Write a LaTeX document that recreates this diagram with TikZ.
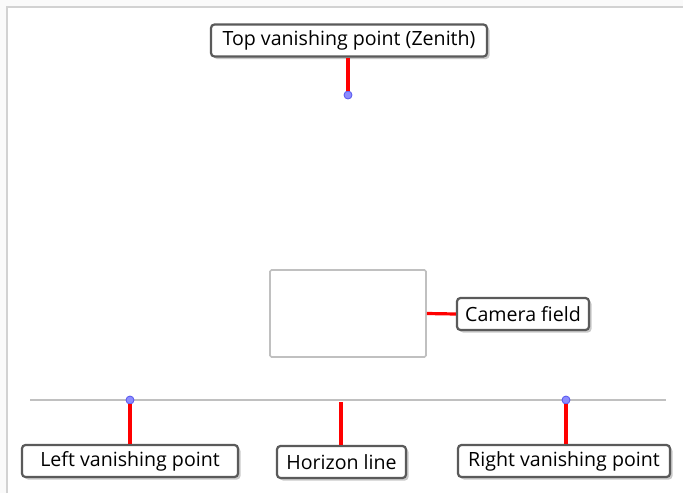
\documentclass[tikz,border=0pt]{standalone}
\usepackage{fontspec}
\setmainfont{Open Sans}
\usetikzlibrary{shadows}
\definecolor{outerbg}{HTML}{FAFAFA}
\definecolor{framegray}{HTML}{D2D2D2}
\definecolor{linegray}{HTML}{C0C0C0}
\definecolor{boxborder}{HTML}{5A5A5A}
\definecolor{leadred}{HTML}{FF0000}
\definecolor{dotfill}{HTML}{8C8CFF}
\definecolor{dotdraw}{HTML}{5555EE}
\tikzset{
  lbl/.style={draw=boxborder, line width=2.2pt, fill=white, rounded corners=3.5pt,
    inner sep=0pt, minimum height=32pt, font=\fontsize{19.6}{21}\selectfont,
    drop shadow={shadow xshift=2.5pt, shadow yshift=-2.5pt, fill=black!35, opacity=0.6}},
  lead/.style={draw=leadred, line width=3.2pt},
  vp/.style={circle, fill=dotfill, draw=dotdraw, line width=0.8pt, minimum size=8pt, inner sep=0pt},
}
\begin{document}
\begin{tikzpicture}[x=1pt,y=-1pt]
\useasboundingbox (0,0) rectangle (683,493);
\fill[outerbg] (0,0) rectangle (683,493);
\fill[white] (7,7) rectangle (683,493);
\draw[framegray, line width=2pt] (7,493) -- (7,7) -- (683,7);
% horizon
\coordinate (hl) at (30,400);
\coordinate (hr) at (666,400);
\draw[linegray, line width=2.2pt] (hl) -- (hr);
% camera field
\node[draw=linegray, line width=1.6pt, rounded corners=1.5pt, minimum width=156pt, minimum height=87pt, inner sep=0pt] (cam) at (348,313.5) {};
% labels
\node[lbl, minimum width=276pt] (top) at (349,40.5) {Top vanishing point (Zenith)};
\node[lbl, minimum width=132pt] (camlbl) at (523,314) {Camera field};
\node[lbl, minimum width=216pt] (left) at (130,461) {Left vanishing point};
\node[lbl, minimum width=129pt] (hor) at (341.5,462) {Horizon line};
\node[lbl, minimum width=212pt] (right) at (564,461) {Right vanishing point};
% points
\node[vp] (ztop) at (348,95) {};
\node[vp] (lvp) at (130,400) {};
\node[vp] (rvp) at (566,400) {};
\coordinate (hpt) at (341,402);
% leaders
\draw[lead] (top.south -| ztop) -- (ztop.north);
\draw[lead] (cam.east) -- (camlbl.west);
\draw[lead] (lvp.south) -- (left.north -| lvp);
\draw[lead] (hpt) -- (hor.north -| hpt);
\draw[lead] (rvp.south) -- (right.north -| rvp);
\end{tikzpicture}
\end{document}
